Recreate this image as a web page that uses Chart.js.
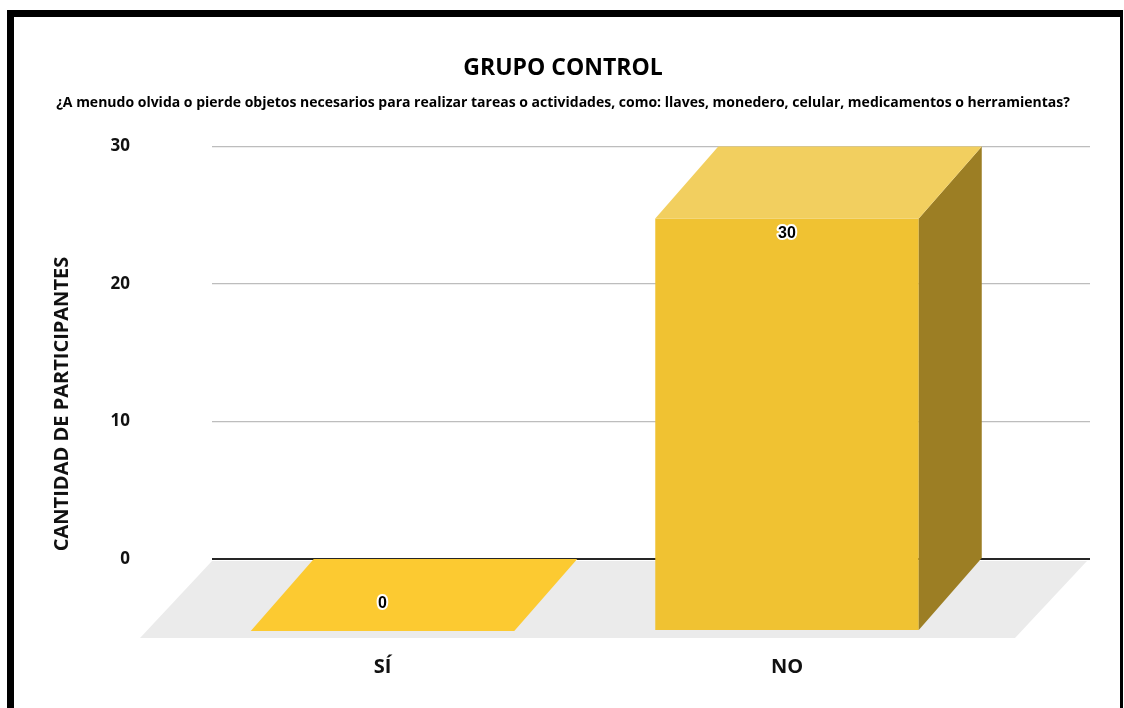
<!DOCTYPE html>
<html lang="es">
<head>
    <meta charset="UTF-8">
    <title>Grupo Control</title>
    <script src="https://cdn.jsdelivr.net/npm/chart.js"></script>
    <style>
        html, body { margin: 0; background: #fff; }
        #wrap { position: relative; width: 1124px; height: 708px; overflow: hidden; }
        #frame {
            position: absolute; left: 7px; top: 10px; width: 1116px; height: 720px;
            box-sizing: border-box; pointer-events: none;
            border-left: 7px solid #000; border-top: 7px solid #000; border-right: 3px solid #000;
        }
    </style>
</head>
<body>
    <div id="wrap">
        <canvas id="chart"></canvas>
        <div id="frame"></div>
    </div>

    <script>
        const categories = ['SÍ', 'NO'];
        const participantes = [0, 30];
        const yTicks = [0, 10, 20, 30];

        const titulo = 'GRUPO CONTROL';
        const pregunta = '¿A menudo olvida o pierde objetos necesarios para realizar tareas o actividades, como: llaves, monedero, celular, medicamentos o herramientas?';
        const tituloEjeY = 'CANTIDAD DE PARTICIPANTES';

        const FONT = "'Open Sans', 'DejaVu Sans', sans-serif";
        // 3D depth offsets (front face relative to back wall)
        const DX = -63, DY = 72;
        const FLOOR_DX = -72, FLOOR_DY = 79;

        const bar3d = {
            id: 'bar3d',
            beforeDatasetsDraw(chart) {
                const { ctx, chartArea: a, scales: { y } } = chart;
                const y0 = y.getPixelForValue(0);
                ctx.save();
                ctx.fillStyle = '#EBEBEB';
                ctx.beginPath();
                ctx.moveTo(a.left, y0 + 2);
                ctx.lineTo(a.right - 3, y0 + 2);
                ctx.lineTo(a.right - 3 + FLOOR_DX, y0 + FLOOR_DY);
                ctx.lineTo(a.left + FLOOR_DX, y0 + FLOOR_DY);
                ctx.closePath();
                ctx.fill();
                ctx.restore();
            },
            beforeDatasetDraw(chart) {
                chart.ctx.save();
                chart.ctx.translate(DX, DY);
            },
            afterDatasetDraw(chart) {
                chart.ctx.restore();
            },
            afterDatasetsDraw(chart) {
                const ctx = chart.ctx;
                const meta = chart.getDatasetMeta(0);
                meta.data.forEach((bar, i) => {
                    const { x, y, base, width } = bar.getProps(['x', 'y', 'base', 'width'], true);
                    const l = x - width / 2, r = x + width / 2;
                    const flat = Math.abs(base - y) < 1;
                    ctx.save();
                    if (!flat) {
                        ctx.fillStyle = '#9C7E24';
                        ctx.beginPath();
                        ctx.moveTo(r + DX, y + DY);
                        ctx.lineTo(r, y);
                        ctx.lineTo(r, base);
                        ctx.lineTo(r + DX, base + DY);
                        ctx.closePath();
                        ctx.fill();
                    }
                    ctx.fillStyle = flat ? '#FCCA31' : '#F2CF5F';
                    ctx.beginPath();
                    ctx.moveTo(l + DX, y + DY);
                    ctx.lineTo(l, y);
                    ctx.lineTo(r, y);
                    ctx.lineTo(r + DX, y + DY);
                    ctx.closePath();
                    ctx.fill();

                    // value label
                    const ly = Math.min(y + DY + 15, base + DY - 27);
                    ctx.font = "bold 16px 'Liberation Sans', Arial, sans-serif";
                    ctx.textAlign = 'center';
                    ctx.textBaseline = 'middle';
                    ctx.lineWidth = 4;
                    ctx.strokeStyle = '#fff';
                    ctx.lineJoin = 'round';
                    const txt = String(participantes[i]);
                    ctx.strokeText(txt, x + DX, ly);
                    ctx.fillStyle = '#000';
                    ctx.fillText(txt, x + DX, ly);
                    ctx.restore();
                });
            },
            afterDraw(chart) {
                const ctx = chart.ctx;
                ctx.save();
                ctx.translate(62, 404);
                ctx.rotate(-Math.PI / 2);
                ctx.font = 'bold 20px ' + FONT;
                ctx.fillStyle = '#111';
                ctx.textAlign = 'center';
                ctx.textBaseline = 'middle';
                ctx.fillText(tituloEjeY, 0, 0);
                ctx.restore();
            }
        };

        new Chart(document.getElementById('chart'), {
            type: 'bar',
            data: {
                datasets: [{
                    data: categories.map((c, i) => ({ x: i, y: participantes[i] })),
                    backgroundColor: '#F0C232',
                    borderWidth: 0,
                    barPercentage: 0.6514,
                    categoryPercentage: 1,
                    clip: false
                }]
            },
            options: {
                responsive: true,
                maintainAspectRatio: false,
                animation: false,
                layout: { padding: { left: 36, right: 34, top: 0, bottom: 0 } },
                plugins: {
                    legend: { display: false },
                    tooltip: { enabled: false },
                    title: {
                        display: true,
                        text: titulo,
                        color: '#000',
                        font: { family: FONT, size: 23, weight: 'bold' },
                        padding: { top: 55, bottom: 0 }
                    },
                    subtitle: {
                        display: true,
                        text: pregunta,
                        color: '#000',
                        font: { family: FONT, size: 14, weight: 'bold' },
                        padding: { top: 12, bottom: 35 }
                    }
                },
                scales: {
                    x: {
                        type: 'linear',
                        offset: false,
                        min: -0.5773,
                        max: 1.5933,
                        grid: { display: false, offset: false },
                        border: { display: false },
                        ticks: {
                            stepSize: 1,
                            includeBounds: false,
                            maxRotation: 0,
                            autoSkip: false,
                            padding: 88,
                            labelOffset: DX,
                            color: '#111',
                            font: { family: FONT, size: 20, weight: 'bold' },
                            callback: v => categories[v] ?? ''
                        },
                        afterFit: s => { s.height = 149; }
                    },
                    y: {
                        min: 0,
                        max: 30,
                        border: { display: false },
                        grid: {
                            drawTicks: false,
                            color: c => c.tick.value === 0 ? '#262626' : '#BDBDBD',
                            lineWidth: c => c.tick.value === 0 ? 2 : 1.2
                        },
                        ticks: {
                            padding: 82,
                            color: '#111',
                            font: { family: FONT, size: 17, weight: 'bold' }
                        },
                        afterBuildTicks: s => { s.ticks = yTicks.map(v => ({ value: v })); },
                        afterFit: s => { s.width = 176; }
                    }
                }
            },
            plugins: [bar3d]
        });
    </script>
</body>
</html>
